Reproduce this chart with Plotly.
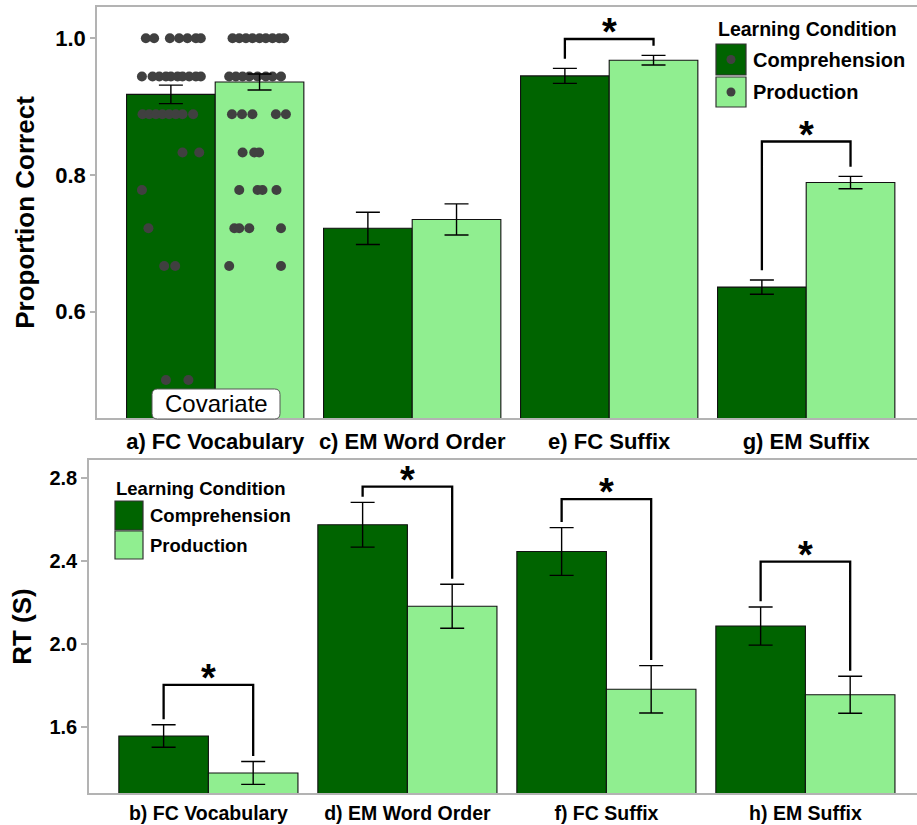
import plotly.graph_objects as go

W, H = 917, 825

# ---------------- data ----------------
groups = [1, 2, 3, 4]
categories_top = ["a) FC Vocabulary", "c) EM Word Order", "e) FC Suffix", "g) EM Suffix"]
categories_bottom = ["b) FC Vocabulary", "d) EM Word Order", "f) FC Suffix", "h) EM Suffix"]
conditions = ["Comprehension", "Production"]

acc_comp = [0.918, 0.722, 0.945, 0.636]
acc_prod = [0.936, 0.735, 0.968, 0.789]
acc_comp_se = [0.0135, 0.0236, 0.011, 0.0105]
acc_prod_se = [0.0117, 0.0227, 0.007, 0.009]

rt_comp = [1.558, 2.576, 2.447, 2.088]
rt_prod = [1.380, 2.183, 1.783, 1.757]
rt_comp_se = [0.054, 0.108, 0.115, 0.092]
rt_prod_se = [0.055, 0.106, 0.114, 0.089]

acc_ticks = [0.6, 0.8, 1.0]
acc_tick_labels = ["0.6", "0.8", "1.0"]
rt_ticks = [1.6, 2.0, 2.4, 2.8]
rt_tick_labels = ["1.6", "2.0", "2.4", "2.8"]

# individual FC Vocabulary scores (covariate), jittered
vocab_comp_scores = ([1.0] * 7 + [0.944] * 10 + [0.889] * 8 + [0.833] * 2 +
                     [0.778] + [0.722] + [0.667] * 2 + [0.5] * 2)
vocab_comp_jitter = [-0.127, -0.085, -0.005, 0.042, 0.084, 0.127, 0.152,
                     -0.147, -0.093, -0.059, -0.025, 0.0, 0.034, 0.059, 0.093, 0.127, 0.152,
                     -0.144, -0.110, -0.076, -0.043, -0.009, 0.025, 0.059, 0.113,
                     0.059, 0.144,
                     -0.147,
                     -0.114,
                     -0.034, 0.022,
                     -0.025, 0.089]
vocab_prod_scores = ([1.0] * 9 + [0.944] * 8 + [0.889] * 5 + [0.833] * 3 +
                     [0.778] * 4 + [0.722] * 4 + [0.667] * 2)
vocab_prod_jitter = [-0.137, -0.103, -0.069, -0.036, 0.0, 0.032, 0.066, 0.1, 0.125,
                     -0.154, -0.12, -0.086, -0.052, -0.01, 0.032, 0.066, 0.109,
                     -0.14, -0.089, -0.036, 0.083, 0.134,
                     -0.086, -0.027, -0.002,
                     -0.103, -0.01, 0.015, 0.086,
                     -0.128, -0.103, -0.052, 0.109,
                     -0.154, 0.109]

# significance brackets
acc_sig_groups = [3, 4]
acc_sig_heights = [0.999, 0.849]
rt_sig_groups = [1, 2, 3, 4]
rt_sig_heights = [1.804, 2.760, 2.699, 2.398]

# ---------------- style ----------------
DARK = "#006400"
LIGHT = "#90EE90"
DOT = "#404040"
AXC = "#b3b3b3"
FONT = "Liberation Sans, Arial, sans-serif"
OFF = 0.225  # dodge offset (bar width 0.45)


def pxx(p):
    return p / W


def pxy(p):
    return 1 - p / H


fig = go.Figure()

panels = [
    dict(xa="x", ya="y", comp=acc_comp, prod=acc_prod, cse=acc_comp_se, pse=acc_prod_se,
         sg=acc_sig_groups, sh=acc_sig_heights, gap=0.014),
    dict(xa="x2", ya="y2", comp=rt_comp, prod=rt_prod, cse=rt_comp_se, pse=rt_prod_se,
         sg=rt_sig_groups, sh=rt_sig_heights, gap=0.027),
]

for p in panels:
    fig.add_trace(go.Bar(x=groups, y=p["comp"], name=conditions[0], marker_color=DARK,
                         marker_line=dict(color="#111111", width=1.1),
                         xaxis=p["xa"], yaxis=p["ya"], showlegend=False))
    fig.add_trace(go.Bar(x=groups, y=p["prod"], name=conditions[1], marker_color=LIGHT,
                         marker_line=dict(color="#111111", width=1.1),
                         xaxis=p["xa"], yaxis=p["ya"], showlegend=False))

# jittered points in the covariate panel
fig.add_trace(go.Scatter(x=[groups[0] - OFF + j for j in vocab_comp_jitter], y=vocab_comp_scores,
                         mode="markers", marker=dict(color=DOT, size=10),
                         xaxis="x", yaxis="y", showlegend=False))
fig.add_trace(go.Scatter(x=[groups[0] + OFF + j for j in vocab_prod_jitter], y=vocab_prod_scores,
                         mode="markers", marker=dict(color=DOT, size=10),
                         xaxis="x", yaxis="y", showlegend=False))

annotations = []
for p in panels:
    # error bars
    for sign, vals, se in [(-1, p["comp"], p["cse"]), (1, p["prod"], p["pse"])]:
        fig.add_trace(go.Scatter(x=[g + sign * OFF for g in groups], y=vals, mode="markers",
                                 marker=dict(size=2, color="rgba(0,0,0,0)"),
                                 error_y=dict(type="data", array=se, color="black",
                                              thickness=1.4, width=12),
                                 xaxis=p["xa"], yaxis=p["ya"], showlegend=False,
                                 hoverinfo="skip"))
    # brackets
    for g, h in zip(p["sg"], p["sh"]):
        i = g - 1
        yl = p["comp"][i] + p["cse"][i] + p["gap"]
        yr = p["prod"][i] + p["pse"][i] + p["gap"]
        fig.add_trace(go.Scatter(x=[g - OFF, g - OFF, g + OFF, g + OFF], y=[yl, h, h, yr],
                                 mode="lines", line=dict(color="black", width=2.3),
                                 xaxis=p["xa"], yaxis=p["ya"], showlegend=False,
                                 hoverinfo="skip"))
        annotations.append(dict(x=g, y=h, xref=p["xa"], yref=p["ya"], text="*",
                                showarrow=False, xanchor="center", yanchor="middle", yshift=7,
                                font=dict(family=FONT, size=38, color="black", weight="bold")))

# Covariate label
annotations.append(dict(x=pxx(216), y=pxy(403), xref="paper", yref="paper", text="Covariate",
                        showarrow=False, xanchor="center", yanchor="middle",
                        font=dict(family=FONT, size=24, color="black")))

# legends
def legend(x0, ytitle, boxes, title_size, item_size, dots):
    annotations.append(dict(x=pxx(x0), y=pxy(ytitle), xref="paper", yref="paper",
                            text="Learning Condition", showarrow=False, xanchor="left",
                            yanchor="middle",
                            font=dict(family=FONT, size=title_size, color="black", weight="bold")))
    shapes = []
    for (bx0, bx1, by0, by1), col, lab in zip(boxes, [DARK, LIGHT], conditions):
        shapes.append(dict(type="rect", xref="paper", yref="paper",
                           x0=pxx(bx0), x1=pxx(bx1), y0=pxy(by1), y1=pxy(by0),
                           fillcolor=col, line=dict(color="#333333", width=1.2), layer="above"))
        if dots:
            cx, cy = (bx0 + bx1) / 2, (by0 + by1) / 2
            shapes.append(dict(type="circle", xref="paper", yref="paper",
                               x0=pxx(cx - 4.5), x1=pxx(cx + 4.5), y0=pxy(cy + 4.5), y1=pxy(cy - 4.5),
                               fillcolor=DOT, line=dict(width=0), layer="above"))
        annotations.append(dict(x=pxx(bx1 + 5), y=pxy((by0 + by1) / 2), xref="paper", yref="paper",
                                text=lab, showarrow=False, xanchor="left", yanchor="middle",
                                font=dict(family=FONT, size=item_size, color="black", weight="bold")))
    return shapes


shapes = []
# covariate box (rounded)
bx0, bx1, by0, by1, r = pxx(152), pxx(280), pxy(389), pxy(419), 0.006
ry = r * W / H
shapes.append(dict(type="path", xref="paper", yref="paper",
                   path=(f"M {bx0 + r},{by0} L {bx1 - r},{by0} Q {bx1},{by0} {bx1},{by0 - ry} "
                         f"L {bx1},{by1 + ry} Q {bx1},{by1} {bx1 - r},{by1} L {bx0 + r},{by1} "
                         f"Q {bx0},{by1} {bx0},{by1 + ry} L {bx0},{by0 - ry} Q {bx0},{by0} {bx0 + r},{by0} Z"),
                   fillcolor="white", line=dict(color="#555555", width=1), layer="above"))
shapes += legend(716, 29, [(716, 746, 44, 75), (716, 746, 77, 107)], 19.5, 20, True)
shapes += legend(114, 488, [(115, 143, 501, 530), (115, 143, 531, 559)], 18.5, 18.5, False)

axis_common = dict(showline=True, linecolor=AXC, linewidth=1.5, showgrid=False, zeroline=False)

fig.update_layout(
    width=W, height=H, template="none",
    margin=dict(l=0, r=0, t=0, b=0),
    paper_bgcolor="white", plot_bgcolor="white",
    font=dict(family=FONT, color="black"),
    barmode="group", bargap=0.1, bargroupgap=0,
    showlegend=False,
    annotations=annotations, shapes=shapes,
    xaxis=dict(domain=[97 / W, 1], range=[0.4, 0.4 + (W - 97) / 197], anchor="y",
               tickvals=groups, ticktext=categories_top, ticks="", tickangle=0,
               ticklabelstandoff=3, mirror=True, automargin=False,
               tickfont=dict(family=FONT, size=22, color="black", weight="bold"), **axis_common),
    yaxis=dict(domain=[1 - 418 / H, 1 - 7 / H], range=[0.4445, 1.0458], anchor="x",
               tickvals=acc_ticks, ticktext=acc_tick_labels, ticks="outside", ticklen=5,
               tickcolor=AXC, tickwidth=1.5, automargin=False,
               tickfont=dict(family=FONT, size=22, color="black", weight="bold"),
               title=dict(text="Proportion Correct", standoff=13,
                          font=dict(family=FONT, size=26, color="black", weight="bold")),
               **axis_common),
    xaxis2=dict(domain=[89 / W, 1], range=[0.4, 0.4 + (W - 89) / 199], anchor="y2",
                tickvals=groups, ticktext=categories_bottom, ticks="", tickangle=0,
                ticklabelstandoff=2, mirror=True, automargin=False,
                tickfont=dict(family=FONT, size=19.5, color="black", weight="bold"), **axis_common),
    yaxis2=dict(domain=[1 - 793 / H, 1 - 460 / H], range=[1.2834, 2.888], anchor="x2",
                tickvals=rt_ticks, ticktext=rt_tick_labels, ticks="outside", ticklen=6,
                tickcolor=AXC, tickwidth=1.5, automargin=False,
                tickfont=dict(family=FONT, size=20, color="black", weight="bold"),
                title=dict(text="RT (S)", standoff=10,
                           font=dict(family=FONT, size=26, color="black", weight="bold")),
                **axis_common),
)

fig.write_html("out.html", config={"displayModeBar": False},
               post_script="document.body.style.margin='0';document.body.style.overflow='hidden';")
